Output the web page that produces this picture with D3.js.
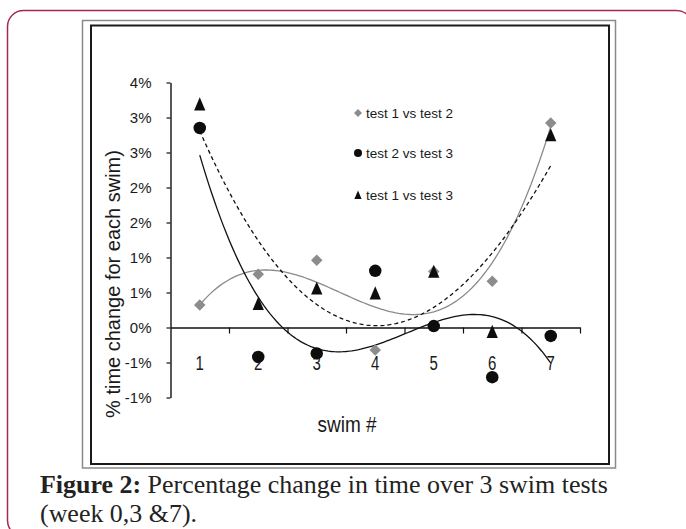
<!DOCTYPE html>
<html>
<head>
<meta charset="utf-8">
<script src="https://cdn.jsdelivr.net/npm/d3@7"></script>
<style>
  body { margin: 0; background: #fff; }
  svg { display: block; }
</style>
</head>
<body>
<div id="chart"></div>
<script>
// swim number on the x axis, % change per series
var swims = [1, 2, 3, 4, 5, 6, 7];
var test1vs2 = [0.32, 0.76, 0.96, -0.32, 0.80, 0.66, 2.92];
var test2vs3 = [2.85, -0.42, -0.37, 0.81, 0.02, -0.71, -0.12];
var test1vs3 = [3.19, 0.34, 0.56, 0.49, 0.80, -0.06, 2.75];
var seriesNames = ["test 1 vs test 2", "test 2 vs test 3", "test 1 vs test 3"];

// excel labels rounded the half-percent ticks
var yTicks = [-1, -0.5, 0, 0.5, 1, 1.5, 2, 2.5, 3, 3.5];
var yTickLabels = ["-1%", "-1%", "0%", "1%", "1%", "2%", "2%", "3%", "3%", "4%"];

var W = 686, H = 529;

var svg = d3.select("#chart").append("svg")
    .attr("width", W)
    .attr("height", H);

// page frame (rounded crimson box) and the double chart border
svg.append("rect")
    .attr("x", 7.5).attr("y", 10.5)
    .attr("width", 685).attr("height", 526)
    .attr("rx", 16)
    .attr("fill", "none")
    .attr("stroke", "#a02a57")
    .attr("stroke-width", 1.5);

svg.append("rect")
    .attr("x", 82.5).attr("y", 20.5)
    .attr("width", 533).attr("height", 447.5)
    .attr("fill", "#fff")
    .attr("stroke", "#8a8a8a")
    .attr("stroke-width", 1.5);

svg.append("rect")
    .attr("x", 91).attr("y", 25.5)
    .attr("width", 518).attr("height", 438.5)
    .attr("fill", "none")
    .attr("stroke", "#1a1a1a")
    .attr("stroke-width", 2);

var x = d3.scaleLinear().domain([0.5, 7.5]).range([170.5, 580]);
var y = d3.scaleLinear().domain([-1, 3.5]).range([397.5, 82.5]);

var fontSans = "Liberation Sans, Arial, sans-serif";

// y axis
var yAxis = svg.append("g")
    .attr("transform", "translate(" + x.range()[0] + ",0)")
    .call(d3.axisLeft(y)
        .tickValues(yTicks)
        .tickSize(4)
        .tickSizeOuter(0)
        .tickPadding(15)
        .tickFormat(function (d, i) { return yTickLabels[i]; }));
yAxis.select(".domain").attr("stroke", "#111").attr("stroke-width", 1.4);
yAxis.selectAll(".tick line").attr("stroke", "#111").attr("stroke-width", 1.2);
yAxis.selectAll(".tick text")
    .attr("font-family", fontSans)
    .attr("font-size", "15px")
    .attr("fill", "#1a1a1a");

// x axis sits on the 0% line, tick marks between categories
var bounds = swims.map(function (s) { return s + 0.5; });
var xAxis = svg.append("g")
    .attr("transform", "translate(0," + y(0) + ")")
    .call(d3.axisBottom(x)
        .tickValues(bounds)
        .tickSize(6)
        .tickSizeOuter(0)
        .tickFormat(""));
xAxis.select(".domain").attr("stroke", "#111").attr("stroke-width", 1.4);
xAxis.selectAll(".tick line").attr("stroke", "#111").attr("stroke-width", 1.2);

// category labels hang below the axis
svg.append("g").selectAll("text")
    .data(swims)
    .join("text")
    .attr("transform", function (d) {
        return "translate(" + x(d) + "," + (y(-0.5) + 1) + ") scale(1,1.3)";
    })
    .attr("text-anchor", "middle")
    .attr("dominant-baseline", "central")
    .attr("font-family", fontSans)
    .attr("font-size", "15px")
    .attr("fill", "#1a1a1a")
    .text(function (d) { return d; });

// axis titles
svg.append("text")
    .attr("transform", "translate(347,425) scale(1,1.12)")
    .attr("text-anchor", "middle")
    .attr("dominant-baseline", "central")
    .attr("font-family", fontSans)
    .attr("font-size", "19px")
    .attr("fill", "#1a1a1a")
    .text("swim #");

svg.append("text")
    .attr("transform", "translate(120,284) rotate(-90)")
    .attr("text-anchor", "middle")
    .attr("font-family", fontSans)
    .attr("font-size", "20px")
    .attr("fill", "#1a1a1a")
    .text("% time change  for each swim)");

// cubic least-squares trendline, like excel's polynomial(3)
function polyFit(xs, ys, order) {
    var n = order + 1;
    var A = [], b = [];
    for (var r = 0; r < n; r++) {
        A.push([]);
        for (var c = 0; c < n; c++) {
            A[r].push(d3.sum(xs, function (v) { return Math.pow(v, r + c); }));
        }
        b.push(d3.sum(xs, function (v, i) { return ys[i] * Math.pow(v, r); }));
    }
    for (var p = 0; p < n; p++) {
        for (var k = p + 1; k < n; k++) {
            var f = A[k][p] / A[p][p];
            for (var j = p; j < n; j++) A[k][j] -= f * A[p][j];
            b[k] -= f * b[p];
        }
    }
    var coef = new Array(n);
    for (var q = n - 1; q >= 0; q--) {
        var s = b[q];
        for (var m = q + 1; m < n; m++) s -= A[q][m] * coef[m];
        coef[q] = s / A[q][q];
    }
    return function (v) {
        return d3.sum(coef, function (cf, i) { return cf * Math.pow(v, i); });
    };
}

var series = [
    { name: seriesNames[0], values: test1vs2, color: "#8a8a8a", dash: null, shape: "diamond" },
    { name: seriesNames[1], values: test2vs3, color: "#111", dash: null, shape: "circle" },
    { name: seriesNames[2], values: test1vs3, color: "#111", dash: "4,3", shape: "triangle" }
];

var line = d3.line()
    .x(function (d) { return x(d[0]); })
    .y(function (d) { return y(d[1]); })
    .curve(d3.curveLinear);

var steps = d3.range(swims[0], swims[swims.length - 1] + 0.001, 0.05);

series.forEach(function (s) {
    var fit = polyFit(swims, s.values, 3);
    svg.append("path")
        .attr("d", line(steps.map(function (v) { return [v, fit(v)]; })))
        .attr("fill", "none")
        .attr("stroke", s.color)
        .attr("stroke-width", 1.3)
        .attr("stroke-dasharray", s.dash);
});

// marker shapes, size = width in px
var shapes = {
    diamond: { draw: function (ctx, size) {
        var r = size / 2;
        ctx.moveTo(0, -r); ctx.lineTo(r, 0); ctx.lineTo(0, r); ctx.lineTo(-r, 0); ctx.closePath();
    } },
    circle: { draw: function (ctx, size) {
        var r = size / 2;
        ctx.moveTo(r, 0); ctx.arc(0, 0, r, 0, 2 * Math.PI);
    } },
    triangle: { draw: function (ctx, size) {
        var r = size / 2;
        ctx.moveTo(0, -r * 1.1); ctx.lineTo(r * 0.9, r * 1.0); ctx.lineTo(-r * 0.9, r * 1.0); ctx.closePath();
    } }
};
var markerSize = { diamond: 11.5, circle: 12.5, triangle: 12.5 };

series.forEach(function (s) {
    svg.append("g").selectAll("path")
        .data(s.values)
        .join("path")
        .attr("transform", function (d, i) { return "translate(" + x(swims[i]) + "," + y(d) + ")"; })
        .attr("d", d3.symbol().type(shapes[s.shape]).size(markerSize[s.shape]))
        .attr("fill", s.shape === "diamond" ? "#8c8c8c" : "#0d0d0d");
});

// legend
var legend = svg.append("g").attr("transform", "translate(358,113)");
var legendRow = legend.selectAll("g")
    .data(series)
    .join("g")
    .attr("transform", function (d, i) { return "translate(0," + [0, 40, 82][i] + ")"; });
legendRow.append("path")
    .attr("d", function (d) { return d3.symbol().type(shapes[d.shape]).size(8)(); })
    .attr("fill", function (d) { return d.shape === "diamond" ? "#8c8c8c" : "#0d0d0d"; });
legendRow.append("text")
    .attr("x", 8)
    .attr("dominant-baseline", "central")
    .attr("font-family", fontSans)
    .attr("font-size", "13.5px")
    .attr("fill", "#1a1a1a")
    .text(function (d) { return d.name; });

// caption under the chart, scaled to the measured line width
var caption = svg.append("g").attr("font-family", "Liberation Serif, 'Times New Roman', serif")
    .attr("fill", "#222");
var line1 = caption.append("text").attr("x", 40).attr("y", 493).attr("font-size", "22px");
line1.append("tspan").attr("font-weight", "bold").text("Figure 2:");
line1.append("tspan").text(" Percentage change in time over 3 swim tests");
var line2 = caption.append("text").attr("x", 40).attr("y", 522).attr("font-size", "22px")
    .text("(week 0,3 &7).");
var w1 = line1.node().getComputedTextLength();
var fs = 22 * 568 / w1;
line1.attr("font-size", fs + "px");
line2.attr("font-size", fs + "px");
</script>
</body>
</html>
